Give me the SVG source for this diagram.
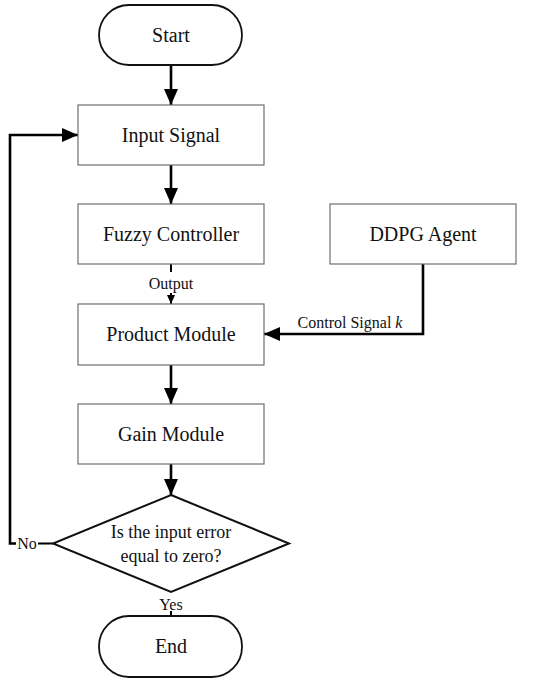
<svg xmlns="http://www.w3.org/2000/svg" width="550" height="687" viewBox="0 0 550 687">
<defs>
<style>
.box{fill:#fff;stroke:#6e6e6e;stroke-width:1.2}
.term{fill:#fff;stroke:#111;stroke-width:1.8}
.dia{fill:#fff;stroke:#111;stroke-width:2}
.t{font-family:"Liberation Serif","Times New Roman",serif;fill:#111;text-anchor:middle}
.big{font-size:20px}
.mid{font-size:18px}
.sm{font-size:16px}
.c{fill:none;stroke:#000;stroke-width:2.6}
.thin{fill:none;stroke:#000;stroke-width:2}
</style>
<marker id="ah" markerUnits="userSpaceOnUse" markerWidth="18" markerHeight="16" refX="16" refY="7.5" orient="auto">
<polygon points="0,0.5 16,7.5 0,14.5" fill="#000"/>
</marker>
<marker id="ahs" markerUnits="userSpaceOnUse" markerWidth="10" markerHeight="10" refX="9" refY="5" orient="auto">
<polygon points="0,1 9,5 0,9" fill="#000"/>
</marker>
</defs>
<rect width="550" height="687" fill="#fff"/>
<g id="connectors">
<line class="c" x1="171" y1="65" x2="171" y2="105" marker-end="url(#ah)"/>
<line class="c" x1="171" y1="165" x2="171" y2="204" marker-end="url(#ah)"/>
<line class="thin" x1="171" y1="264" x2="171" y2="272"/>
<line class="thin" x1="171" y1="293" x2="171" y2="304" marker-end="url(#ahs)"/>
<polyline class="c" points="423,264 423,334 264,334" marker-end="url(#ah)"/>
<line class="c" x1="171" y1="365" x2="171" y2="404" marker-end="url(#ah)"/>
<line class="c" x1="171" y1="464" x2="171" y2="495" marker-end="url(#ah)"/>
<line class="thin" x1="53" y1="543.5" x2="38" y2="543.5"/>
<polyline class="c" points="16,543.5 10,543.5 10,135 78,135" marker-end="url(#ah)"/>
<line class="thin" x1="171" y1="611" x2="171" y2="616"/>
<text class="t sm" x="171" y="289">Output</text>
<text class="t sm" x="350" y="328">Control Signal <tspan font-style="italic">k</tspan></text>
<text class="t sm" x="27" y="549">No</text>
<text class="t sm" x="171" y="610">Yes</text>
</g>
<g id="start"><rect class="term" x="99" y="5" width="143" height="60" rx="30"/><text class="t big" x="171" y="42">Start</text></g>
<g id="input"><rect class="box" x="78" y="105" width="186" height="60"/><text class="t big" x="171" y="142">Input Signal</text></g>
<g id="fuzzy"><rect class="box" x="78" y="204" width="186" height="60"/><text class="t big" x="171" y="241">Fuzzy Controller</text></g>
<g id="ddpg"><rect class="box" x="330" y="204" width="186" height="60"/><text class="t big" x="423" y="241">DDPG Agent</text></g>
<g id="product"><rect class="box" x="78" y="304" width="186" height="61"/><text class="t big" x="171" y="341">Product Module</text></g>
<g id="gain"><rect class="box" x="78" y="404" width="186" height="60"/><text class="t big" x="171" y="441">Gain Module</text></g>
<g id="decision"><polygon class="dia" points="171,495 289,543.5 171,592 53,543.5"/><text class="t mid" x="171" y="538">Is the input error</text><text class="t mid" x="171" y="562">equal to zero?</text></g>
<g id="end"><rect class="term" x="99" y="616" width="143" height="61" rx="30"/><text class="t big" x="171" y="653">End</text></g>
</svg>
